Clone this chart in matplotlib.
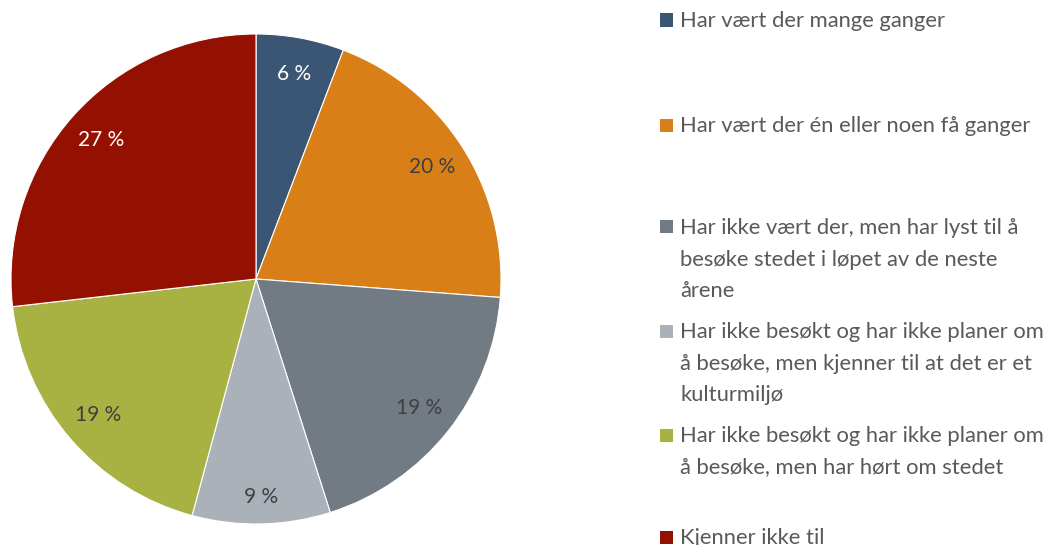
import matplotlib
matplotlib.use('Agg')
import matplotlib.pyplot as plt
from matplotlib.patches import Rectangle

# Shares (percent), clockwise from 12 o'clock
categories = [
    "Har vært der mange ganger",
    "Har vært der én eller noen få ganger",
    "Har ikke vært der, men har lyst til å\nbesøke stedet i løpet av de neste\nårene",
    "Har ikke besøkt og har ikke planer om\nå besøke, men kjenner til at det er et\nkulturmiljø",
    "Har ikke besøkt og har ikke planer om\nå besøke, men har hørt om stedet",
    "Kjenner ikke til",
]
values = [5.8, 20.4, 18.9, 9.1, 19.0, 26.8]
colors = ["#3A5674", "#D97F17", "#727A83", "#AAB1B8", "#A7B243", "#941000"]
label_colors = ["white", "#404040", "#404040", "#404040", "#404040", "white"]

plt.rcParams['font.family'] = ['Lato', 'DejaVu Sans']

W, H = 1054, 545
fig = plt.figure(figsize=(W / 100, H / 100), dpi=100)

# pie: centre (256, 279) px, radius 245 px
cx, cy, r = 256, 279, 245
ax = fig.add_axes([(cx - r) / W, (H - cy - r) / H, 2 * r / W, 2 * r / H])
wedges, texts, autotexts = ax.pie(
    values, colors=colors, startangle=90, counterclock=False, radius=1,
    autopct=lambda p: f"{p:.0f} %", pctdistance=0.85,
    wedgeprops=dict(edgecolor='white', linewidth=0.8),
    textprops=dict(fontsize=15))
for t, c in zip(autotexts, label_colors):
    t.set_color(c)
# the small light-grey slice has its label a bit further out
x, y = autotexts[3].get_position()
autotexts[3].set_position((x * 0.89 / 0.85, y * 0.89 / 0.85))
ax.set_xlim(-1, 1)
ax.set_ylim(-1, 1)
ax.set_aspect('equal')
ax.axis('off')

# legend drawn by hand to follow the uneven spacing of the original
legend_y = [20, 125, 227, 331, 435, 537]  # px from top, first line centre
for label, col, y in zip(categories, colors, legend_y):
    fig.patches.append(Rectangle((660 / W, 1 - (y + 6.5) / H), 13 / W, 13 / H,
                                 transform=fig.transFigure, facecolor=col,
                                 edgecolor='none'))
    fig.text(680 / W, 1 - (y - 9) / H, label, fontsize=15.8, color='#595959',
             va='top', ha='left', linespacing=1.72)

fig.savefig('out.png', dpi=100)
